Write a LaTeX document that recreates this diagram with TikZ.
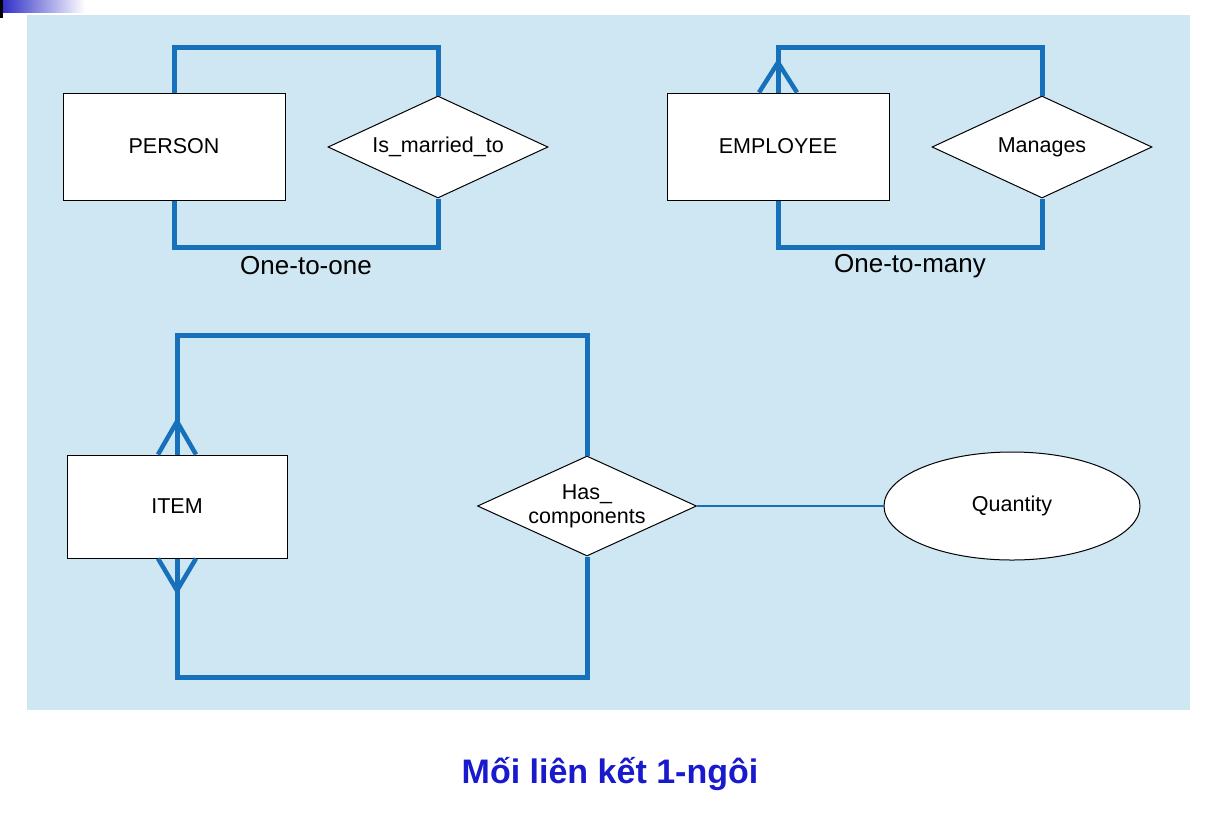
\documentclass[tikz,border=0pt]{standalone}
\usepackage{fontspec}
\setmainfont{Liberation Sans}
\usetikzlibrary{shapes.geometric,calc}
\definecolor{panel}{RGB}{207,230,243}
\definecolor{linkc}{RGB}{22,112,186}
\definecolor{ttl}{RGB}{25,25,205}
\definecolor{barc}{RGB}{50,50,200}
\begin{document}
\begin{tikzpicture}[x=1pt,y=-1pt,
  entity/.style={draw=black, fill=white, line width=1pt, minimum width=222pt, minimum height=107pt, inner sep=0pt, font=\fontsize{21.5}{24}\selectfont},
  rel/.style={draw=black, fill=white, diamond, line width=1pt, minimum width=220pt, minimum height=102pt, inner sep=0pt},
  rtext/.style={font=\fontsize{21.5}{24}\selectfont, align=center},
  lnk/.style={draw=linkc, line width=5pt, line join=miter},
  lbl/.style={font=\fontsize{26}{30}\selectfont}]
\useasboundingbox (0,0) rectangle (1215,815);
\fill[white] (0,0) rectangle (1215,815);
\fill[panel] (27,15) rectangle (1190,710);
\shade[left color=barc, right color=white] (3,0) rectangle (85,12);
\fill[black] (0,0) rectangle (3,18);

% one-to-one
\node[entity] (person) at (174,146.5) {PERSON};
\node[rel] (marr) at (438,147) {};
\node[rtext] (marrt) at (marr.center) {Is\_married\_to};
\coordinate (top1) at (0,47);
\coordinate (bot1) at (0,247);
\draw[lnk] (person.north) -- (person.north |- top1) -- (marr.north |- top1) -- (marr.north);
\draw[lnk] (person.south) -- (person.south |- bot1) -- (marr.south |- bot1) -- (marr.south);
\node[lbl] (l1) at (306,266) {One-to-one};

% one-to-many
\node[entity] (emp) at (778,146.5) {EMPLOYEE};
\node[rel] (man) at (1042,147) {};
\node[rtext] (mant) at (man.center) {Manages};
\draw[lnk] (emp.north) -- (emp.north |- top1) -- (man.north |- top1) -- (man.north);
\draw[lnk] (emp.south) -- (emp.south |- bot1) -- (man.south |- bot1) -- (man.south);
\draw[lnk, line width=4.5pt] ($(emp.north)+(-19,0)$) -- ($(emp.north)+(0,-30)$) -- ($(emp.north)+(19,0)$);
\node[lbl] (l2) at (910,266) {One-to-many};

% item
\node[entity, minimum width=220pt, minimum height=103pt] (item) at (177,506.5) {ITEM};
\node[rel, minimum width=219pt, minimum height=100pt] (has) at (587,506) {};
\node[rtext] (hast) at (has.center) {Has\_\\components};
\node[ellipse, draw=black, fill=white, line width=1pt, minimum width=256pt, minimum height=108pt, inner sep=0pt, font=\fontsize{21.5}{24}\selectfont] (qty) at (1012,506) {Quantity};
\coordinate (top2) at (0,335);
\coordinate (bot2) at (0,677);
\draw[lnk] (item.north) -- (item.north |- top2) -- (has.north |- top2) -- (has.north);
\draw[lnk] (item.south) -- (item.south |- bot2) -- (has.south |- bot2) -- (has.south);
\draw[lnk, line width=4.5pt] ($(item.north)+(-19,0)$) -- ($(item.north)+(0,-33)$) -- ($(item.north)+(19,0)$);
\draw[lnk, line width=4.5pt] ($(item.south)+(-19,0)$) -- ($(item.south)+(0,32)$) -- ($(item.south)+(19,0)$);
\draw[draw=linkc, line width=2.5pt] (has.east) -- (qty.west);

\node[font=\fontsize{34}{40}\selectfont\bfseries, text=ttl] (title) at (610,774) {Mối liên kết 1-ngôi};
\end{tikzpicture}
\end{document}
